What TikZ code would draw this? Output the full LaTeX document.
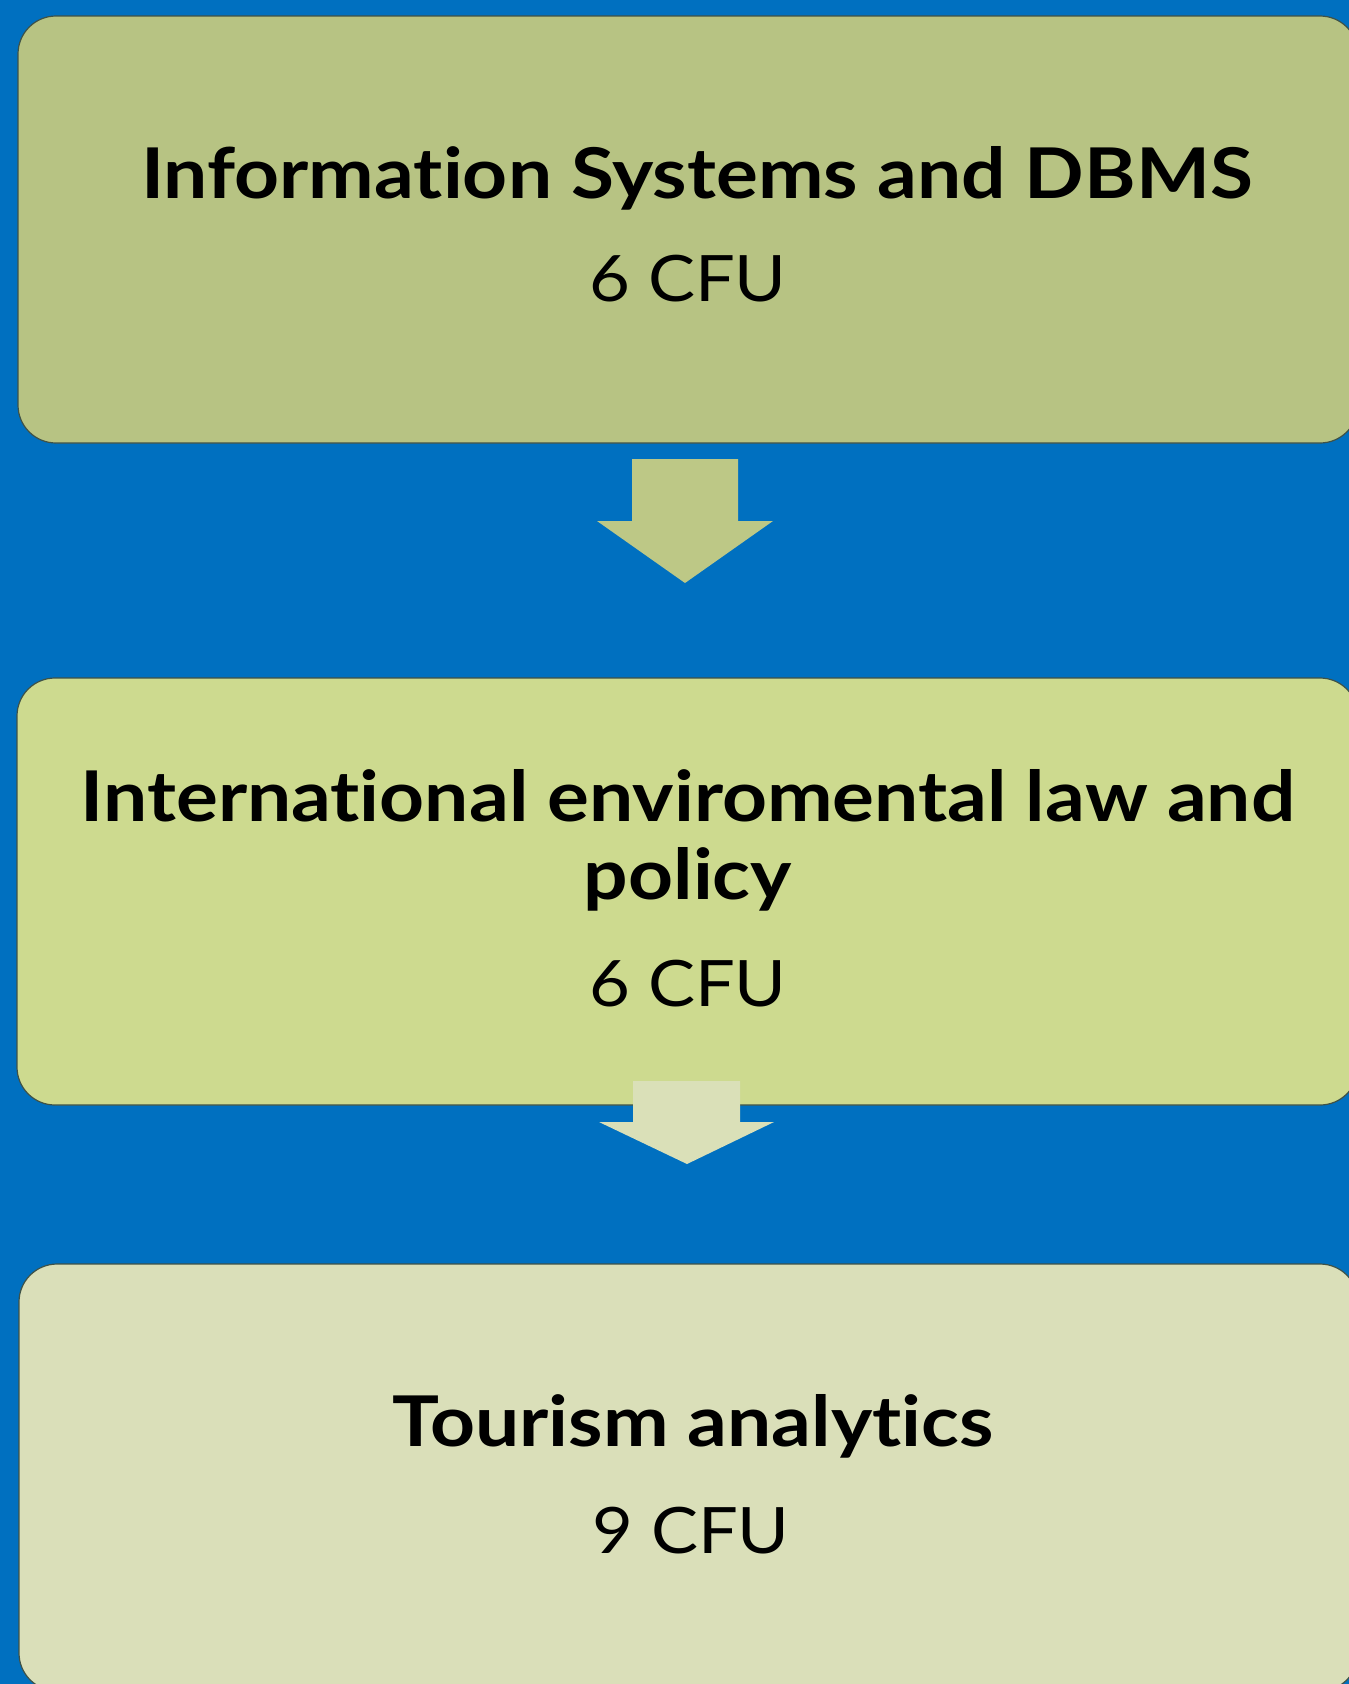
\documentclass[tikz,border=0pt]{standalone}
\usepackage{fontspec}
\setmainfont{Lato}
\newfontfamily\titlefont[FakeStretch=1.12,Ligatures=NoCommon]{Lato}
\newfontfamily\creditfont[FakeStretch=1.10,Ligatures=NoCommon]{Lato}
\definecolor{bgblue}{RGB}{0,112,192}
\definecolor{boxA}{RGB}{183,195,131}
\definecolor{boxB}{RGB}{205,218,143}
\definecolor{boxC}{RGB}{218,223,185}
\definecolor{arrA}{RGB}{189,200,134}
\definecolor{arrB}{RGB}{218,224,184}
\definecolor{edge}{RGB}{62,82,72}
\tikzset{
  card/.style={draw=edge, line width=1.2pt, rounded corners=38pt},
  title/.style={anchor=base, inner sep=0pt, font=\titlefont\fontsize{70}{84}\selectfont\bfseries},
  credit/.style={anchor=base, inner sep=0pt, font=\creditfont\fontsize{64}{77}\selectfont},
}
\begin{document}
\begin{tikzpicture}[x=1pt,y=1pt]
\useasboundingbox (0,0) rectangle (1349,-1684);
\fill[bgblue] (0,0) rectangle (1349,-1684);
% boxes
\draw[card, fill=boxA] (18,-16) rectangle (1358,-443);
\draw[card, fill=boxB] (17,-678) rectangle (1358,-1105);
\draw[card, fill=boxC] (19,-1264) rectangle (1358,-1691);
% arrows
\fill[arrA] (632,-459) -- (738,-459) -- (738,-521) -- (773,-521) -- (685,-583) -- (597,-521) -- (632,-521) -- cycle;
\fill[arrB] (633,-1081) -- (740,-1081) -- (740,-1122) -- (774,-1122) -- (687,-1164) -- (599,-1122) -- (633,-1122) -- cycle;
% texts
\node[title] (t1) at (697,-198) {Information Systems and DBMS};
\node[credit] (c1) at (688,-301) {6 CFU};
\node[title] (t2a) at (688,-821) {International enviromental law and};
\node[title] (t2b) at (688,-899) {policy};
\node[credit] (c2) at (688,-1006) {6 CFU};
\node[title] (t3) at (693,-1446) {Tourism analytics};
\node[credit] (c3) at (691,-1553) {9 CFU};
\end{tikzpicture}
\end{document}
